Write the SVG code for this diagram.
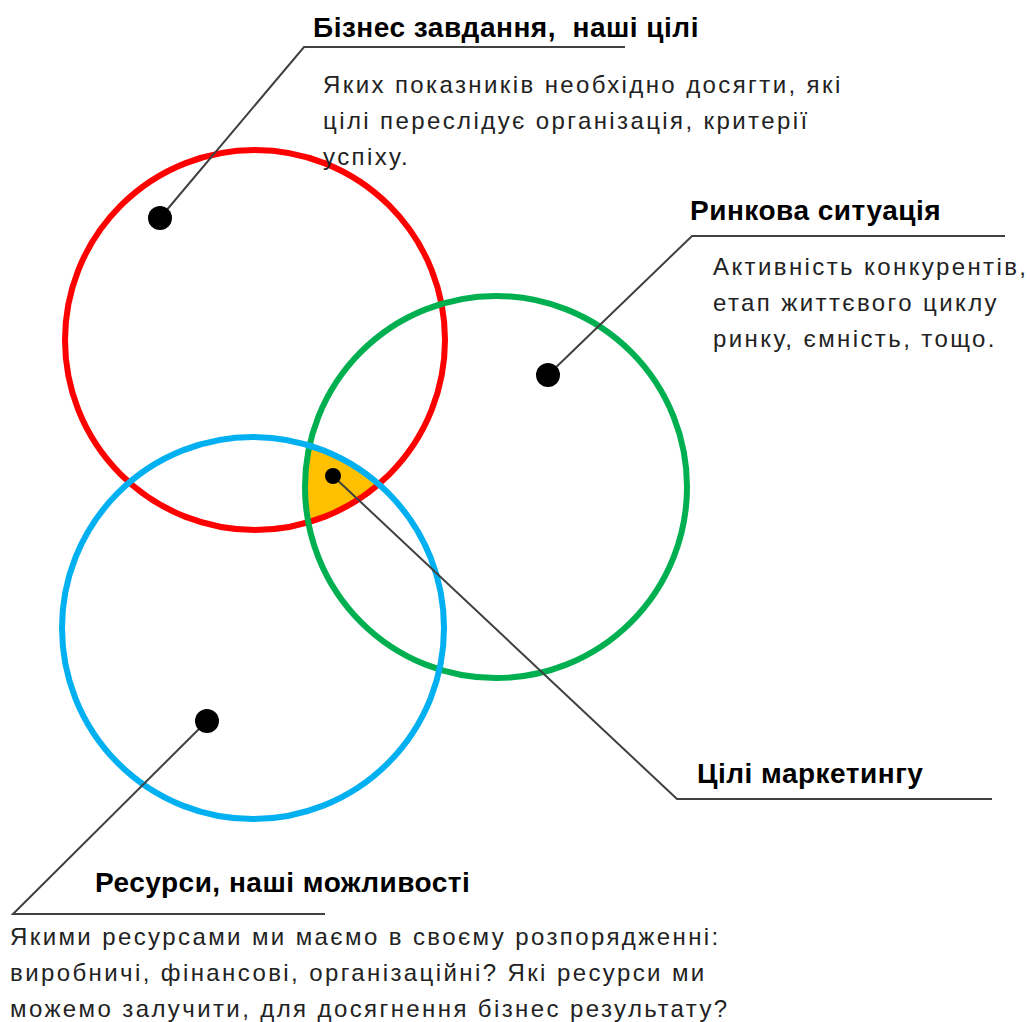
<svg xmlns="http://www.w3.org/2000/svg" width="1030" height="1022" viewBox="0 0 1030 1022">
  <style>
    .ring { fill: none; stroke-width: 6; }
    .lead { fill: none; stroke: #404040; stroke-width: 2; }
    .dot { fill: #000; }
    .title { font-family: "Liberation Sans", Arial, sans-serif; font-weight: bold; font-size: 28px; letter-spacing: 0.5px; fill: #000; white-space: pre; }
    .body { font-family: "Liberation Sans", Arial, sans-serif; font-size: 24px; letter-spacing: 2.4px; fill: #222; }
  </style>
  <defs>
    <clipPath id="clipRed"><circle cx="255" cy="340" r="190"/></clipPath>
    <clipPath id="clipGreen"><circle cx="496" cy="487" r="191"/></clipPath>
  </defs>
  <rect width="1030" height="1022" fill="#fff"/>

  <!-- overlap of all three rings -->
  <g id="overlap">
    <g clip-path="url(#clipRed)">
      <g clip-path="url(#clipGreen)">
        <circle cx="253" cy="628" r="191" fill="#FFC000"/>
      </g>
    </g>
  </g>

  <g id="business">
    <circle class="ring" cx="255" cy="340" r="190" stroke="#FF0000"/>
  </g>
  <g id="market">
    <circle class="ring" cx="496" cy="487" r="191" stroke="#00B050"/>
  </g>
  <g id="resources">
    <circle class="ring" cx="253" cy="628" r="191" stroke="#00B0F0"/>
  </g>

  <g id="connectors">
    <polyline class="lead" points="160,218 304,47 625,47"/>
    <polyline class="lead" points="548,375 692,236 1005,236"/>
    <polyline class="lead" points="333,476 677,799 992,799"/>
    <polyline class="lead" points="207,721 13,914 325,914"/>
    <circle class="dot" cx="160" cy="218" r="12"/>
    <circle class="dot" cx="548" cy="375" r="12"/>
    <circle class="dot" cx="333" cy="476" r="8"/>
    <circle class="dot" cx="207" cy="721" r="12"/>
  </g>

  <g id="label-business">
    <text class="title" x="313" y="37" xml:space="preserve">Бізнес завдання,  наші цілі</text>
    <text class="body" x="323" y="93">Яких показників необхідно досягти, які</text>
    <text class="body" x="323" y="129">цілі переслідує організація, критерії</text>
    <text class="body" x="323" y="165">успіху.</text>
  </g>
  <g id="label-market">
    <text class="title" x="690" y="220">Ринкова ситуація</text>
    <text class="body" x="713" y="275">Активність конкурентів,</text>
    <text class="body" x="713" y="311">етап життєвого циклу</text>
    <text class="body" x="713" y="347">ринку, ємність, тощо.</text>
  </g>
  <g id="label-marketing">
    <text class="title" x="697" y="783">Цілі маркетингу</text>
  </g>
  <g id="label-resources">
    <text class="title" x="95" y="892">Ресурси, наші можливості</text>
    <text class="body" x="10" y="945">Якими ресурсами ми маємо в своєму розпорядженні:</text>
    <text class="body" x="10" y="981">виробничі, фінансові, організаційні? Які ресурси ми</text>
    <text class="body" x="10" y="1017">можемо залучити, для досягнення бізнес результату?</text>
  </g>
</svg>
